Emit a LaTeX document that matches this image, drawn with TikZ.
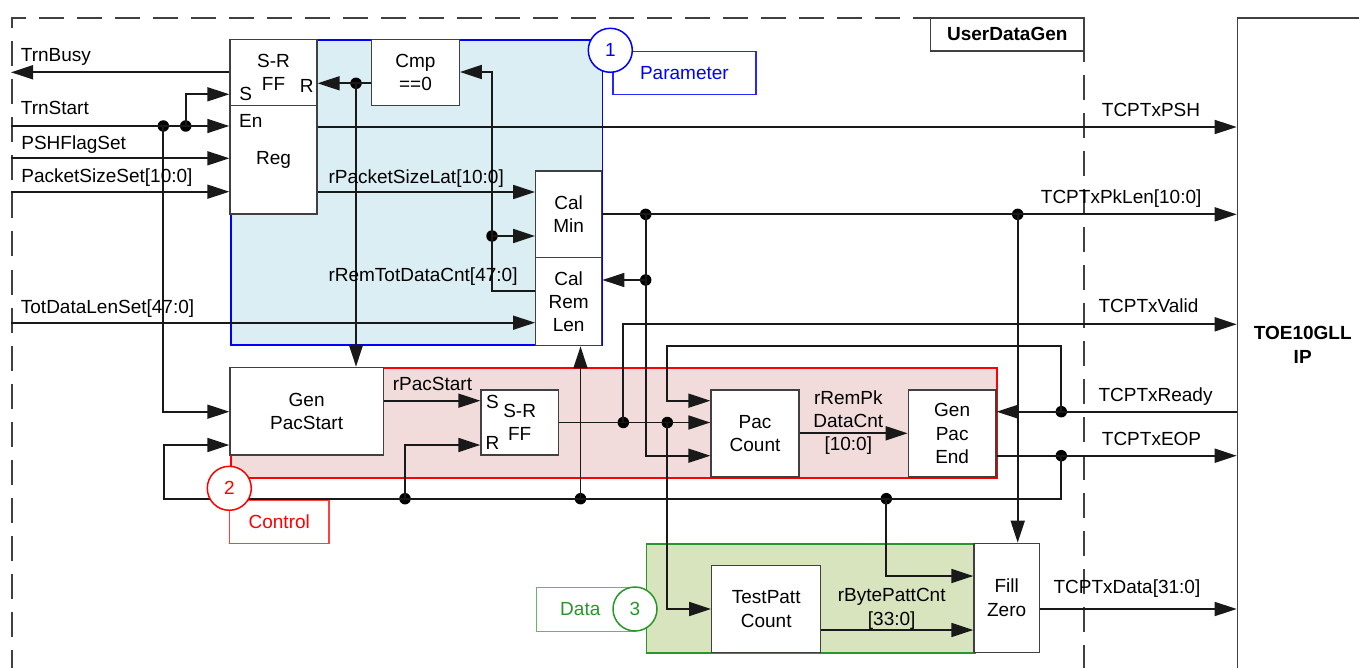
\documentclass[tikz,border=0pt]{standalone}
\usepackage{fontspec}
\setmainfont{Liberation Sans}
\usetikzlibrary{arrows.meta}
\definecolor{pblue}{RGB}{218,238,243}
\definecolor{cred}{RGB}{242,220,219}
\definecolor{dgreen}{RGB}{215,228,189}
\definecolor{gline}{RGB}{40,150,40}
\definecolor{bline}{RGB}{64,64,64}
\begin{document}
\begin{tikzpicture}[x=1pt,y=-1pt,
  every node/.style={font=\fontsize{19}{23.3}\selectfont, inner sep=0pt},
  blk/.style={draw=bline, fill=white, line width=1.3pt, align=center},
  region/.style={line width=1.6pt, anchor=north west},
  tagbox/.style={fill=white, line width=1.2pt, anchor=north west},
  numcirc/.style={circle, fill=white, line width=1.5pt, minimum size=44pt},
  wire/.style={line width=1.7pt, draw=black!90},
  arr/.style={wire, -{Triangle[length=22pt,width=14pt]}},
  dot/.style={circle, fill=black, minimum size=11.5pt, inner sep=0pt},
  lbl/.style={anchor=base west},
  bold/.style={font=\bfseries\fontsize{19}{23.3}\selectfont, align=center},
]
\useasboundingbox (0,0) rectangle (1359,668);
\clip (0,0) rectangle (1359,668);

% outer frames
\node[draw=bline, dash pattern=on 25pt off 13pt, line width=1.6pt, anchor=north west, minimum width=1072.3pt, minimum height=720pt] (udg) at (11,17.3) {};
\node[draw=bline, fill=white, line width=1.3pt, anchor=north west, minimum width=153.3pt, minimum height=33pt, bold] (udgl) at (930,17.3) {UserDataGen};
\node[draw=bline, line width=1.5pt, anchor=north west, minimum width=200pt, minimum height=720pt] (toe) at (1236.7,17.3) {};
\node[bold] (toel) at (1302.7,345) {TOE10GLL\\IP};

% regions
\node[region, draw=blue, fill=pblue, minimum width=371.7pt, minimum height=305pt] (param) at (230,39.3) {};
\node[region, draw=red, fill=cred, minimum width=766pt, minimum height=109.7pt] (ctrl) at (230,367.3) {};
\node[region, draw=gline, fill=dgreen, minimum width=328.3pt, minimum height=109pt] (data) at (645.7,543.3) {};

% tag boxes
\node[tagbox, draw=blue!85, text=blue, minimum width=143pt, minimum height=43.3pt] (ptag) at (612.3,50.7) {Parameter};
\node[tagbox, draw=red!75, text=red, minimum width=99.3pt, minimum height=43.4pt] (ctag) at (229,499.3) {Control};
\node[tagbox, draw=gline!70, minimum width=99pt, minimum height=44pt] (dtag) at (536,586.7) {};
\node[text=gline] (dtxt) at (580.3,608.7) {Data};

% blocks
\node[blk, minimum width=87pt, minimum height=66pt] (srff1) at (273.5,72.3) {S-R\\FF};
\node[blk, minimum width=87pt, minimum height=108.7pt] (reg) at (273.5,159.65) {Reg};
\node[blk, minimum width=87.6pt, minimum height=66pt] (cmp) at (415.5,72.3) {Cmp\\==0};
\node[blk, minimum width=66pt, minimum height=86.7pt] (calmin) at (568.7,214.35) {Cal\\Min};
\node[blk, minimum width=66pt, minimum height=88pt] (calrem) at (568.7,301.7) {Cal\\Rem\\Len};
\node[blk, minimum width=153.3pt, minimum height=87.7pt] (genps) at (306.65,411.15) {Gen\\PacStart};
\node[blk, minimum width=77.3pt, minimum height=65pt] (srff2) at (519.65,422.5) {S-R\\FF};
\node[blk, minimum width=88pt, minimum height=87pt] (paccnt) at (755,433.5) {Pac\\Count};
\node[blk, minimum width=87.7pt, minimum height=87pt] (genpe) at (952.15,433.5) {Gen\\Pac\\End};
\node[blk, minimum width=109pt, minimum height=86.6pt] (tpc) at (766.2,609) {TestPatt\\Count};
\node[blk, minimum width=65.3pt, minimum height=109pt] (fz) at (1006.65,597.8) {Fill\\Zero};

% pin letters
\node (s1) at (245.8,93.8) {S};
\node (r1) at (306.7,85.7) {R};
\node (en) at (250.8,121) {En};
\node (s2) at (492.5,402) {S};
\node (r2) at (492.5,443) {R};

% junction dots
\node[dot] (d1) at (163.3,126) {};
\node[dot] (d2) at (185.7,126) {};
\node[dot] (d3) at (356,83.3) {};
\node[dot] (d4) at (492,236) {};
\node[dot] (d5) at (645.7,214.35) {};
\node[dot] (d6) at (1017.7,214.35) {};
\node[dot] (d7) at (645.7,280) {};
\node[dot] (d8) at (623.3,422.5) {};
\node[dot] (d9) at (667.3,422.5) {};
\node[dot] (d10) at (1061.3,411.7) {};
\node[dot] (d11) at (1061.3,455.7) {};
\node[dot] (d12) at (405,498.7) {};
\node[dot] (d13) at (580.5,498.7) {};
\node[dot] (d14) at (886.3,498.7) {};
\coordinate (loopL) at (164,498.7);
\coordinate (rdyTop) at (667.3,346);

% wires
\draw[arr] (srff1.west) -- (udg.west |- srff1.west);
\draw[arr] (udg.west |- 0,126) -- (reg.west |- 0,126);
\draw[arr] (d2.center) -- (d2.center |- 0,94.3) -- (srff1.west |- 0,94.3);
\draw[arr] (d1.center) -- (d1.center |- 0,411.7) -- (genps.west |- 0,411.7);
\draw[arr] (udg.west |- 0,158.3) -- (reg.west |- 0,158.3);
\draw[arr] (udg.west |- 0,191.7) -- (reg.west |- 0,191.7);
\draw[arr] (udg.west |- 0,322.7) -- (calrem.west |- 0,322.7);
\draw[arr] (reg.east |- 0,127) -- (toe.west |- 0,127);
\draw[arr] (reg.east |- 0,192) -- (calmin.west |- 0,192);
\draw[arr] (cmp.west |- 0,83.3) -- (srff1.east |- 0,83.3);
\draw[arr] (d3.center) -- (genps.north -| d3.center);
\draw[arr] (calrem.west |- 0,291) -- (d4.center |- 0,291) -- (d4.center |- 0,72) -- (cmp.east |- 0,72);
\draw[arr] (d4.center) -- (calmin.west |- d4.center);
\draw[arr] (calmin.east) -- (toe.west |- calmin.east);
\draw[arr] (d5.center) -- (d5.center |- 0,455.7) -- (paccnt.west |- 0,455.7);
\draw[arr] (d7.center) -- (calrem.east |- d7.center);
\draw[arr] (d6.center) -- (fz.north -| d6.center);
\draw[arr] (srff2.east) -- (paccnt.west |- srff2.east);
\draw[arr] (d8.center) -- (d8.center |- 0,324.3) -- (toe.west |- 0,324.3);
\draw[arr] (d9.center) -- (d9.center |- tpc.west) -- (tpc.west);
\draw[arr] (toe.west |- 0,411.7) -- (genpe.east |- 0,411.7);
\draw[arr] (d10.center) -- (d10.center |- rdyTop) -- (rdyTop) -- (rdyTop |- 0,400.7) -- (paccnt.west |- 0,400.7);
\draw[arr] (genpe.east |- 0,455.7) -- (toe.west |- 0,455.7);
\draw[arr] (d11.center) -- (d11.center |- loopL) -- (loopL) -- (loopL |- 0,445) -- (genps.west |- 0,445);
\draw[arr] (d12.center) -- (d12.center |- 0,445) -- (srff2.west |- 0,445);
\draw[arr] (d13.center) -- (calrem.south -| d13.center);
\draw[arr] (d14.center) -- (d14.center |- 0,576) -- (fz.west |- 0,576);
\draw[arr] (genps.east |- 0,400.7) -- (srff2.west |- 0,400.7);
\draw[arr] (paccnt.east |- 0,433.3) -- (genpe.west |- 0,433.3);
\draw[arr] (tpc.east |- 0,630) -- (fz.west |- 0,630);
\draw[arr] (fz.east |- 0,609) -- (toe.west |- 0,609);

% numbered circles
\node[numcirc, draw=blue, text=blue] (c1) at (610.3,50.3) {1};
\node[numcirc, draw=red, text=red] (c2) at (229.3,488.3) {2};
\node[numcirc, draw=gline, text=gline] (c3) at (635,609) {3};

% signal labels
\node[lbl] (lTrnBusy) at (20.7,61.7) {TrnBusy};
\node[lbl] (lTrnStart) at (20.7,115) {TrnStart};
\node[lbl] (lPSH) at (21.2,149.3) {PSHFlagSet};
\node[lbl] (lPkt) at (21.2,182.7) {PacketSizeSet[10:0]};
\node[lbl] (lTot) at (20.7,313.3) {TotDataLenSet[47:0]};
\node[lbl] (lPSL) at (328.3,184) {rPacketSizeLat[10:0]};
\node[lbl] (lRTD) at (328.3,281.7) {rRemTotDataCnt[47:0]};
\node[lbl] (lTxPSH) at (1101.7,116.7) {TCPTxPSH};
\node[lbl] (lTxPkLen) at (1040.7,203.3) {TCPTxPkLen[10:0]};
\node[lbl] (lTxValid) at (1098.3,312.7) {TCPTxValid};
\node[lbl] (lTxReady) at (1098.3,401.7) {TCPTxReady};
\node[lbl] (lTxEOP) at (1101.7,445) {TCPTxEOP};
\node[lbl] (lTxData) at (1053.3,593.3) {TCPTxData[31:0]};
\node[lbl] (lPacStart) at (392.7,390) {rPacStart};
\node[align=center] (lRemPk) at (848.3,422.7) {rRemPk\\DataCnt\\{}[10:0]};
\node[align=center] (lBPC) at (891.7,608.7) {rBytePattCnt\\{}[33:0]};
\end{tikzpicture}
\end{document}
